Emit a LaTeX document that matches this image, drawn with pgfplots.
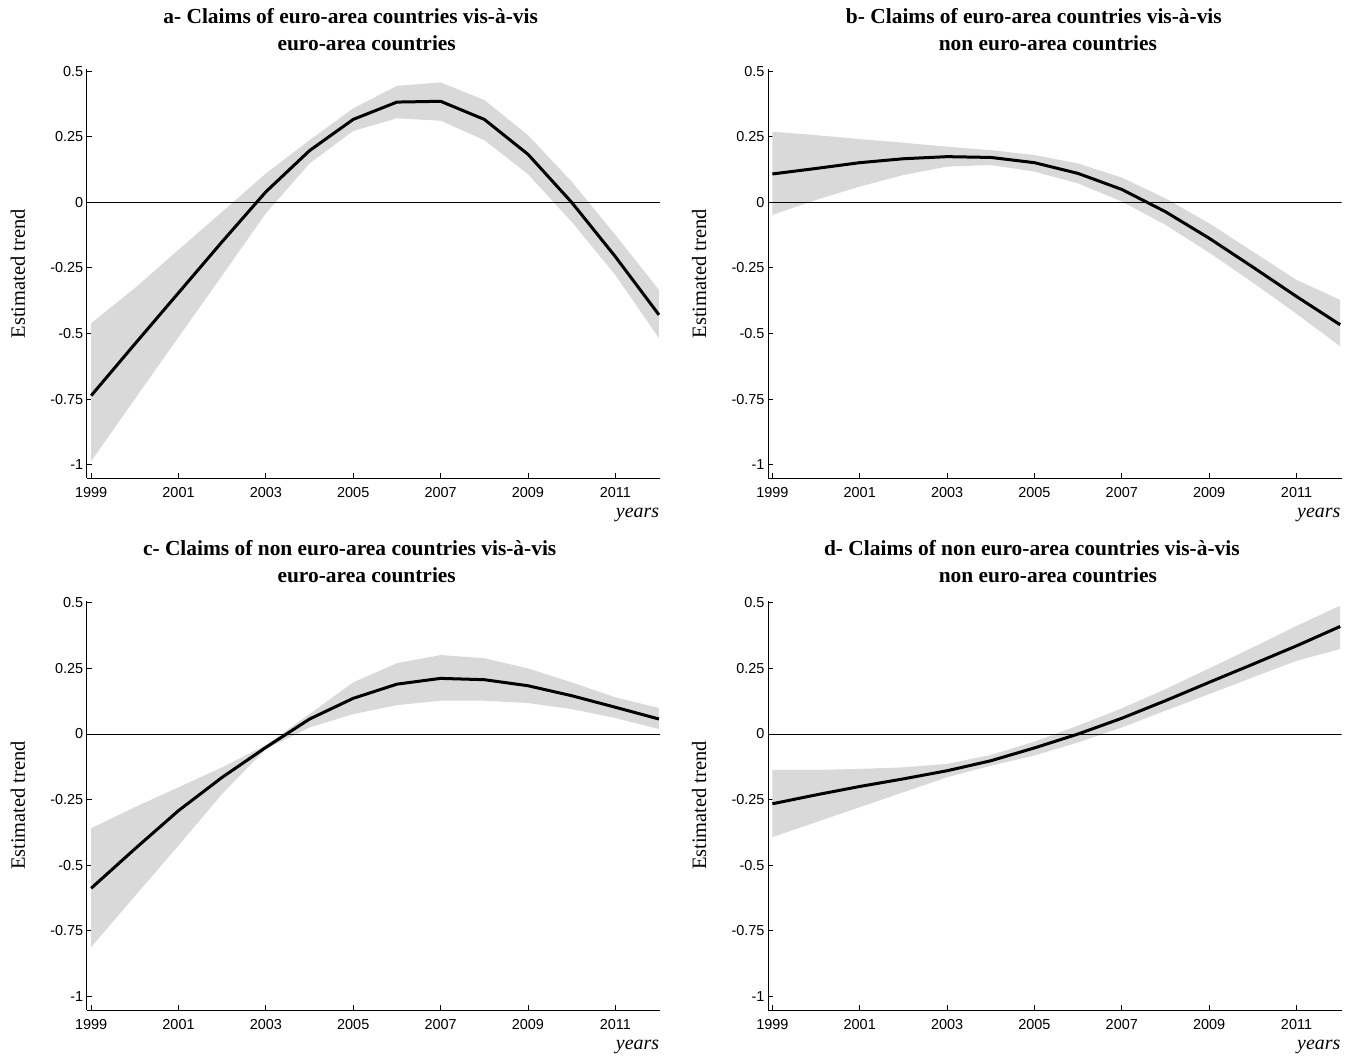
\documentclass[border=0pt]{standalone}
\usepackage{fontspec}
\setmainfont{Liberation Serif}
\setsansfont{Liberation Sans}
\usepackage{pgfplots}
\pgfplotsset{compat=1.18}
\usepackage{pgfplotstable}
\usepgfplotslibrary{fillbetween}
\definecolor{bandgray}{RGB}{217,217,217}

\pgfplotstableread{
year mid lo hi
1999 -0.737 -0.987 -0.461
2000 -0.540 -0.750 -0.327
2001 -0.345 -0.514 -0.181
2002 -0.150 -0.279 -0.036
2003 0.040 -0.042 0.110
2004 0.197 0.148 0.237
2005 0.316 0.272 0.358
2006 0.382 0.320 0.444
2007 0.385 0.311 0.457
2008 0.316 0.237 0.390
2009 0.183 0.107 0.256
2010 0.000 -0.074 0.079
2011 -0.207 -0.277 -0.124
2012 -0.429 -0.518 -0.334
}\dataA

\pgfplotstableread{
year mid lo hi
1999 0.108 -0.048 0.269
2000 0.129 0.009 0.256
2001 0.151 0.060 0.241
2002 0.166 0.104 0.227
2003 0.174 0.136 0.212
2004 0.171 0.142 0.199
2005 0.151 0.117 0.180
2006 0.110 0.072 0.148
2007 0.049 0.003 0.094
2008 -0.036 -0.086 0.015
2009 -0.137 -0.192 -0.080
2010 -0.247 -0.306 -0.188
2011 -0.359 -0.425 -0.296
2012 -0.467 -0.549 -0.372
}\dataB

\pgfplotstableread{
year mid lo hi
1999 -0.588 -0.812 -0.359
2000 -0.438 -0.618 -0.279
2001 -0.292 -0.425 -0.203
2002 -0.165 -0.228 -0.127
2003 -0.051 -0.057 -0.042
2004 0.057 0.025 0.076
2005 0.136 0.076 0.197
2006 0.190 0.110 0.270
2007 0.212 0.127 0.301
2008 0.207 0.127 0.289
2009 0.184 0.118 0.250
2010 0.146 0.095 0.197
2011 0.102 0.061 0.140
2012 0.057 0.019 0.099
}\dataC

\pgfplotstableread{
year mid lo hi
1999 -0.266 -0.393 -0.137
2000 -0.232 -0.336 -0.137
2001 -0.200 -0.279 -0.133
2002 -0.171 -0.222 -0.127
2003 -0.140 -0.165 -0.114
2004 -0.102 -0.121 -0.080
2005 -0.053 -0.082 -0.029
2006 0.000 -0.032 0.032
2007 0.060 0.025 0.098
2008 0.127 0.089 0.171
2009 0.197 0.152 0.250
2010 0.266 0.216 0.330
2011 0.336 0.279 0.412
2012 0.410 0.324 0.489
}\dataD

\pgfplotsset{
  panel/.style={
    scale only axis, width=573.5bp, height=409bp,
    xmin=1998.9, xmax=2012.03, ymin=-1.052, ymax=0.507,
    axis lines=left,
    axis line style={-, line width=0.8bp, black},
    tick align=inside, major tick length=5bp,
    tick style={black, line width=0.8bp},
    xtick={1999,2001,2003,2005,2007,2009,2011},
    xticklabels={1999,2001,2003,2005,2007,2009,2011},
    ytick={-1,-0.75,-0.5,-0.25,0,0.25,0.5},
    yticklabels={-1,-0.75,-0.5,-0.25,0,0.25,0.5},
    ticklabel style={font=\sffamily\fontsize{14.5}{16}\selectfont},
    xticklabel style={yshift=-6bp},
    ylabel={Estimated trend},
    every axis y label/.style={at={(axis description cs:-0.12,0.5)}, rotate=90, anchor=center, font=\fontsize{20.5}{22}\selectfont},
    xlabel={years},
    every axis x label/.style={at={(axis description cs:1,0)}, anchor=north east, inner sep=0pt, yshift=-30bp, xshift=-1bp, font=\itshape\fontsize{20}{22}\selectfont},
    title style={at={(axis description cs:0.488,1)}, anchor=south, yshift=12.5bp, inner sep=0pt, align=center, font=\bfseries\fontsize{21.5}{26.5}\selectfont},
  }
}

\begin{document}
\begin{tikzpicture}
\path (0,0) rectangle (1357bp,1057bp);

% a
\begin{axis}[panel, at={(86.8bp,578.7bp)}, anchor=south west,
  title={a- Claims of euro-area countries vis-à-vis\rule{32bp}{0pt}\\euro-area countries}]
  \addplot[name path=ahi, draw=none, forget plot] table[x=year,y=hi]{\dataA};
  \addplot[name path=alo, draw=none, forget plot] table[x=year,y=lo]{\dataA};
  \addplot[bandgray, forget plot] fill between[of=ahi and alo];
  \addplot[black, line width=0.8bp, forget plot] coordinates {(1998.9,0) (2012.03,0)};
  \addplot[black, line width=3bp, line join=round] table[x=year,y=mid]{\dataA};
\end{axis}

% b
\begin{axis}[panel, at={(768bp,578.7bp)}, anchor=south west,
  title={b- Claims of euro-area countries vis-à-vis\rule{28bp}{0pt}\\non euro-area countries}]
  \addplot[name path=bhi, draw=none, forget plot] table[x=year,y=hi]{\dataB};
  \addplot[name path=blo, draw=none, forget plot] table[x=year,y=lo]{\dataB};
  \addplot[bandgray, forget plot] fill between[of=bhi and blo];
  \addplot[black, line width=0.8bp, forget plot] coordinates {(1998.9,0) (2012.03,0)};
  \addplot[black, line width=3bp, line join=round] table[x=year,y=mid]{\dataB};
\end{axis}

% c
\begin{axis}[panel, at={(86.8bp,47bp)}, anchor=south west,
  title={c- Claims of non euro-area countries vis-à-vis\rule{34bp}{0pt}\\euro-area countries}]
  \addplot[name path=chi, draw=none, forget plot] table[x=year,y=hi]{\dataC};
  \addplot[name path=clo, draw=none, forget plot] table[x=year,y=lo]{\dataC};
  \addplot[bandgray, forget plot] fill between[of=chi and clo];
  \addplot[black, line width=0.8bp, forget plot] coordinates {(1998.9,0) (2012.03,0)};
  \addplot[black, line width=3bp, line join=round] table[x=year,y=mid]{\dataC};
\end{axis}

% d
\begin{axis}[panel, at={(768bp,47bp)}, anchor=south west,
  title={d- Claims of non euro-area countries vis-à-vis\rule{32bp}{0pt}\\non euro-area countries}]
  \addplot[name path=dhi, draw=none, forget plot] table[x=year,y=hi]{\dataD};
  \addplot[name path=dlo, draw=none, forget plot] table[x=year,y=lo]{\dataD};
  \addplot[bandgray, forget plot] fill between[of=dhi and dlo];
  \addplot[black, line width=0.8bp, forget plot] coordinates {(1998.9,0) (2012.03,0)};
  \addplot[black, line width=3bp, line join=round] table[x=year,y=mid]{\dataD};
\end{axis}
\end{tikzpicture}
\end{document}
